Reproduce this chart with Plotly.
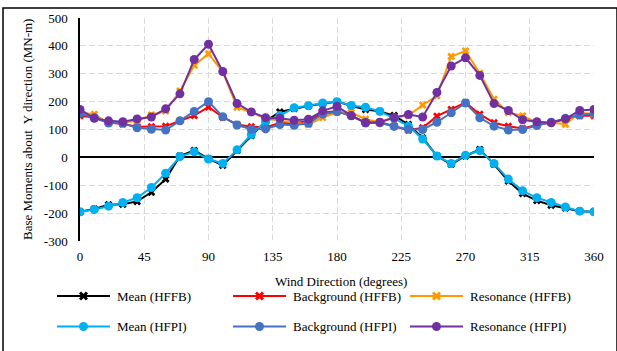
import plotly.graph_objects as go

# Wind directions (degrees)
directions = list(range(0, 361, 10))

# Base moments about Y direction (MN-m)
mean_hffb = [-195, -185, -170, -168, -158, -125, -78, 5, 25, -5, -28, 25, 78, 130, 163, 175, 185, 192, 200,
             185, 172, 165, 150, 118, 70, 5, -25, 5, 28, -25, -85, -130, -155, -172, -182, -193, -195]
background_hffb = [149, 143, 125, 120, 110, 110, 112, 131, 150, 181, 144, 118, 110, 107, 124, 123, 130, 160, 166,
                   148, 125, 127, 113, 97, 106, 148, 172, 197, 155, 124, 112, 104, 116, 125, 137, 149, 149]
resonance_hffb = [160, 155, 123, 125, 131, 152, 166, 238, 330, 372, 307, 180, 161, 140, 131, 125, 118, 143, 162,
                  161, 137, 126, 143, 150, 188, 221, 362, 382, 302, 209, 161, 149, 125, 125, 119, 161, 155]
mean_hfpi = [-195, -187, -175, -162, -145, -108, -57, 3, 20, -6, -22, 27, 82, 128, 150, 178, 185, 195, 200,
             186, 180, 165, 140, 112, 66, 5, -22, 8, 24, -22, -78, -120, -145, -162, -178, -193, -195]
background_hfpi = [158, 142, 123, 122, 106, 101, 98, 131, 165, 200, 146, 116, 101, 102, 118, 115, 122, 155, 164,
                   149, 123, 124, 111, 101, 100, 126, 160, 195, 142, 112, 98, 100, 114, 126, 140, 152, 157]
resonance_hfpi = [172, 140, 131, 128, 138, 145, 174, 228, 351, 406, 308, 193, 163, 142, 140, 133, 137, 167, 183,
                  150, 125, 126, 143, 154, 145, 233, 328, 357, 294, 193, 168, 135, 128, 124, 138, 168, 172]

x_ticks = [0, 45, 90, 135, 180, 225, 270, 315, 360]
y_ticks = [-300, -200, -100, 0, 100, 200, 300, 400, 500]

series = [
    ("Mean (HFFB)", mean_hffb, "#000000", "x", 7),
    ("Background (HFFB)", background_hffb, "#FF0000", "x", 7),
    ("Resonance (HFFB)", resonance_hffb, "#FF9900", "x", 7),
    ("Mean (HFPI)", mean_hfpi, "#00B0F0", "circle", 9),
    ("Background (HFPI)", background_hfpi, "#4472C4", "circle", 9),
    ("Resonance (HFPI)", resonance_hfpi, "#7030A0", "circle", 9),
]

W, H = 617, 351
M_L, M_R, M_T, M_B = 80, 23, 18, 110
PW, PH = W - M_L - M_R, H - M_T - M_B
font = dict(family="Liberation Serif, Times New Roman, serif", size=13, color="#000000")


def px(x):
    """page pixel x -> paper x"""
    return (x - M_L) / PW


def py(y):
    """page pixel y (from top) -> paper y"""
    return (H - M_B - y) / PH


fig = go.Figure()
for name, values, color, symbol, size in series:
    fig.add_trace(go.Scatter(
        x=directions, y=values, name=name, mode="lines+markers",
        line=dict(color=color, width=2),
        marker=dict(symbol=symbol, size=size, color=color),
        showlegend=False,
    ))

# Legend drawn as a 3 x 2 grid of key lines, markers and labels
col_px = [57, 233, 410]
row_px = [296, 326.5]
key_len = 53
shapes = []
annotations = []
for i, (name, values, color, symbol, size) in enumerate(series):
    x0 = col_px[i % 3]
    y0 = row_px[i // 3]
    xm = x0 + key_len / 2
    shapes.append(dict(type="line", xref="paper", yref="paper",
                       x0=px(x0), x1=px(x0 + key_len), y0=py(y0), y1=py(y0),
                       line=dict(color=color, width=2)))
    if symbol == "circle":
        r = 4.5
        shapes.append(dict(type="circle", xref="paper", yref="paper",
                           x0=px(xm - r), x1=px(xm + r), y0=py(y0 + r), y1=py(y0 - r),
                           fillcolor=color, line=dict(color=color, width=0)))
    else:
        r = 3.5
        path = (f"M{px(xm - r)},{py(y0 - r)} L{px(xm + r)},{py(y0 + r)} "
                f"M{px(xm - r)},{py(y0 + r)} L{px(xm + r)},{py(y0 - r)}")
        shapes.append(dict(type="path", xref="paper", yref="paper", path=path,
                           line=dict(color=color, width=3)))
    annotations.append(dict(text=name, xref="paper", yref="paper",
                            x=px(x0 + key_len + 5), y=py(y0), xanchor="left", yanchor="middle",
                            showarrow=False, font=font))

# Axis titles
annotations.append(dict(text="Wind Direction (degrees)", xref="paper", yref="paper",
                        x=px(341), y=py(281), xanchor="center", yanchor="middle",
                        showarrow=False, font=font))
annotations.append(dict(text="Base Moments about  Y direction (MN-m)", xref="paper", yref="paper",
                        x=px(27), y=py(130), xanchor="center", yanchor="middle",
                        textangle=-90, showarrow=False, font=font))

# Outer chart border
shapes.append(dict(type="rect", xref="paper", yref="paper",
                   x0=px(3), x1=px(617), y0=py(352), y1=py(8),
                   line=dict(color="#000000", width=1.5), fillcolor="rgba(0,0,0,0)", layer="below"))

grid = dict(showgrid=True, gridcolor="#D9D9D9", gridwidth=1.3, griddash="6px,3px")

fig.update_layout(
    width=W, height=H,
    margin=dict(l=M_L, r=M_R, t=M_T, b=M_B, autoexpand=False),
    paper_bgcolor="#FFFFFF", plot_bgcolor="#FFFFFF",
    font=font,
    showlegend=False,
    xaxis=dict(
        range=[0, 360], tickvals=x_ticks, ticktext=[str(v) for v in x_ticks],
        showline=False, zeroline=False, ticks="", ticklabelstandoff=6,
        **grid,
    ),
    yaxis=dict(
        range=[-300, 500], tickvals=y_ticks, ticktext=[str(v) for v in y_ticks],
        showline=True, linecolor="#000000", linewidth=1.5,
        zeroline=True, zerolinecolor="#000000", zerolinewidth=1.5,
        ticks="", ticklabelstandoff=8,
        **grid,
    ),
    shapes=shapes,
    annotations=annotations,
)

fig.write_html("out.html")
